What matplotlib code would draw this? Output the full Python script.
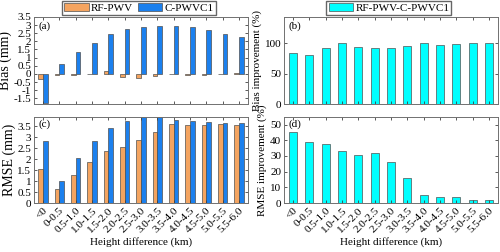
import matplotlib
matplotlib.use("Agg")
import matplotlib.pyplot as plt
import numpy as np

plt.rcParams['font.family'] = ['Liberation Serif', 'DejaVu Serif']
plt.rcParams['font.size'] = 8

# data
heights = ['<0', '0-0.5', '0.5-1.0', '1.0-1.5', '1.5-2.0', '2.0-2.5', '2.5-3.0',
           '3.0-3.5', '3.5-4.0', '4.0-4.5', '4.5-5.0', '5.0-5.5', '5.5-6.0']
bias_rf = [-0.32, -0.08, -0.08, 0.0, 0.2, -0.18, -0.22, -0.15, 0.01, -0.08, -0.05, 0.0, 0.05]
bias_c = [-1.8, 0.62, 1.32, 1.87, 2.42, 2.73, 2.86, 2.93, 2.93, 2.85, 2.67, 2.47, 2.27]
rmse_rf = [1.55, 0.62, 1.28, 1.87, 2.37, 2.56, 2.86, 3.25, 3.6, 3.56, 3.56, 3.59, 3.56]
rmse_c = [2.83, 0.99, 2.05, 2.83, 3.4, 3.74, 4.1, 4.1, 3.76, 3.72, 3.7, 3.66, 3.66]
bias_imp = [83.5, 81, 92, 100, 93, 92.5, 92.3, 95, 100, 96.7, 98, 100, 100]
rmse_imp = [45.5, 38.7, 37.7, 33.4, 30.6, 31.9, 25.9, 15.8, 5.2, 3.8, 3.7, 1.8, 1.9]

c_rf = '#F4A460'
c_c = '#1B80EE'
c_imp = '#00FFFF'
edge = '#505050'

fig = plt.figure(figsize=(5, 2.52), dpi=100)
ax_a = fig.add_axes([0.068, 0.587, 0.428, 0.346])
ax_c = fig.add_axes([0.068, 0.194, 0.428, 0.343])
ax_b = fig.add_axes([0.568, 0.587, 0.428, 0.346])
ax_d = fig.add_axes([0.568, 0.194, 0.428, 0.343])

x = np.arange(len(heights))
w = 0.28

def style(ax):
    ax.set_xlim(-0.55, len(heights) - 0.45)
    ax.set_xticks(x)
    ax.tick_params(direction='in', top=True, right=True, length=2.5, width=0.6,
                   color='#404040', labelsize=8, pad=2)
    for s in ax.spines.values():
        s.set_color('#707070')
        s.set_linewidth(0.7)

ax_a.bar(x - w / 2, bias_rf, w, color=c_rf, edgecolor=edge, linewidth=0.5, label='RF-PWV')
ax_a.bar(x + w / 2, bias_c, w, color=c_c, edgecolor=edge, linewidth=0.5, label='C-PWVC1')
style(ax_a)
ax_a.set_ylim(-1.85, 3.5)
ax_a.set_yticks(np.arange(-1.5, 3.51, 0.5))
ax_a.set_yticklabels(['-1.5', '-1', '-0.5', '0', '0.5', '1', '1.5', '2', '2.5', '3', '3.5'])
ax_a.set_xticklabels([])
ax_a.set_ylabel('Bias (mm)', fontsize=10, labelpad=1)
ax_a.text(0.02, 0.95, '(a)', transform=ax_a.transAxes, va='top', fontsize=8)
ax_a.legend(loc='lower center', bbox_to_anchor=(0.49, 1.0), ncol=2, fontsize=8,
            frameon=True, fancybox=False, edgecolor='#404040', borderpad=0.2,
            handlelength=2.2, handletextpad=0.2, columnspacing=0.4,
            borderaxespad=0.15)

ax_c.bar(x - w / 2, rmse_rf, w, color=c_rf, edgecolor=edge, linewidth=0.5)
ax_c.bar(x + w / 2, rmse_c, w, color=c_c, edgecolor=edge, linewidth=0.5)
style(ax_c)
ax_c.set_ylim(0, 3.93)
ax_c.set_yticks(np.arange(0, 3.51, 0.5))
ax_c.set_yticklabels(['0', '0.5', '1', '1.5', '2', '2.5', '3', '3.5'])
ax_c.set_xticklabels(heights, rotation=45, ha='right', rotation_mode='anchor')
ax_c.set_ylabel('RMSE (mm)', fontsize=10, labelpad=1)
ax_c.set_xlabel('Height difference (km)', fontsize=8, labelpad=2)
ax_c.text(0.02, 0.97, '(c)', transform=ax_c.transAxes, va='top', fontsize=8)

ax_b.bar(x, bias_imp, 0.5, color=c_imp, edgecolor=edge, linewidth=0.5, label='RF-PWV-C-PWVC1')
style(ax_b)
ax_b.set_ylim(0, 143)
ax_b.set_yticks([0, 50, 100])
ax_b.set_xticklabels([])
ax_b.set_ylabel('Bias improvement (%)', fontsize=8, labelpad=2)
ax_b.text(0.02, 0.95, '(b)', transform=ax_b.transAxes, va='top', fontsize=8)
ax_b.legend(loc='lower center', bbox_to_anchor=(0.49, 1.0), ncol=1, fontsize=8,
            frameon=True, fancybox=False, edgecolor='#404040', borderpad=0.2,
            handlelength=2.2, handletextpad=0.2, borderaxespad=0.15)

ax_d.bar(x, rmse_imp, 0.5, color=c_imp, edgecolor=edge, linewidth=0.5)
style(ax_d)
ax_d.set_ylim(0, 55)
ax_d.set_yticks(np.arange(0, 51, 10))
ax_d.set_xticklabels(heights, rotation=45, ha='right', rotation_mode='anchor')
ax_d.set_ylabel('RMSE improvement (%)', fontsize=8, labelpad=2)
ax_d.set_xlabel('Height difference (km)', fontsize=8, labelpad=2)
ax_d.text(0.02, 0.97, '(d)', transform=ax_d.transAxes, va='top', fontsize=8)

fig.savefig('out.png', dpi=100)
